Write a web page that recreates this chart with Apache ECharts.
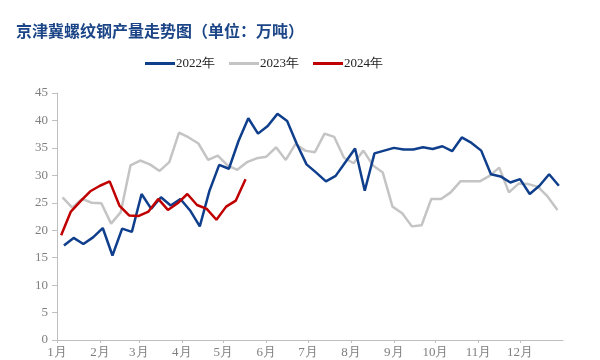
<!DOCTYPE html>
<html>
<head>
<meta charset="utf-8">
<script src="https://cdn.jsdelivr.net/npm/echarts@6/dist/echarts.min.js"></script>
<style>html,body{margin:0;padding:0;background:#fff;}#c{width:600px;height:360px;}</style>
</head>
<body>
<div id="c"></div>
<script>
// Month starts (day of year) and their labels
var monthStarts = [0, 31, 59, 90, 120, 151, 181, 212, 243, 273, 304, 334];
var monthLabels = ['1月','2月','3月','4月','5月','6月','7月','8月','9月','10月','11月','12月'];
var seriesNames = ['2022年', '2023年', '2024年'];
// First weekly observation day-of-year of each year (weekly data)
var firstDay = [5, 4, 3];
var v2022 = [17.2,18.6,17.5,18.7,20.4,15.4,20.3,19.7,26.6,23.9,26.0,24.5,25.7,23.6,20.7,27.2,31.9,31.2,36.3,40.4,37.6,39.0,41.2,39.9,35.7,32.0,30.5,28.9,29.9,32.4,34.9,27.2,34.0,34.5,35.0,34.7,34.7,35.1,34.8,35.3,34.4,36.9,35.9,34.5,30.2,29.8,28.7,29.3,26.6,28.1,30.2,28.1];
var v2023 = [26.0,24.1,25.7,25.0,24.9,21.2,23.3,31.8,32.7,32.0,30.8,32.4,37.8,36.9,35.8,32.8,33.6,31.8,31.0,32.4,33.1,33.4,35.1,32.8,35.7,34.5,34.2,37.6,37.0,33.2,32.2,34.5,31.8,30.5,24.3,23.1,20.7,20.9,25.7,25.7,26.9,28.9,28.9,28.9,29.9,31.4,26.9,28.5,28.4,27.9,26.1,23.7];
var v2024 = [19.1,23.4,25.3,27.1,28.1,28.9,24.5,22.7,22.6,23.4,25.7,23.7,24.9,26.6,24.6,23.9,21.9,24.3,25.4,29.3];
var colors = ['#0f3f8c', '#c4c4c4', '#c00000'];

function weekly(vals, start) {
  return vals.map(function (v, i) { return [start + 7 * i, v]; });
}
var allVals = [v2022, v2023, v2024];

var chart = echarts.init(document.getElementById('c'));
var serif = '"Liberation Serif","Times New Roman",serif';
chart.setOption({
  animation: false,
  title: {
    text: '京津冀螺纹钢产量走势图（单位：万吨）',
    left: 11, top: 18,
    textStyle: { fontFamily: '"Noto Sans CJK SC"', fontSize: 16, fontWeight: 'bold', color: '#1b4587' }
  },
  legend: {
    top: 52, left: 140,
    itemWidth: 30, itemHeight: 3, itemGap: 14,
    icon: 'rect',
    textStyle: { fontFamily: serif, fontSize: 13, color: '#222' , padding: [0,0,0,-4]},
    data: seriesNames
  },
  grid: { left: 57, right: 37, top: 93, bottom: 20 },
  xAxis: {
    type: 'value', min: 0, max: 365,
    splitLine: { show: false },
    axisLine: { lineStyle: { color: '#bfbfbf', width: 1 } },
    axisTick: { show: true, length: 3, customValues: monthStarts, lineStyle: { color: '#bfbfbf' } },
    axisLabel: {
      customValues: monthStarts, margin: 6,
      fontFamily: serif, fontSize: 13, color: '#7f7f7f',
      formatter: function (v) { var k = monthStarts.indexOf(v); return k >= 0 ? monthLabels[k] : ''; }
    }
  },
  yAxis: {
    type: 'value', min: 0, max: 45, interval: 5,
    splitLine: { show: false },
    axisLine: { show: true, lineStyle: { color: '#bfbfbf', width: 1 } },
    axisTick: { show: true, length: 5, lineStyle: { color: '#bfbfbf' } },
    axisLabel: { fontFamily: serif, fontSize: 13, color: '#7f7f7f', margin: 9 }
  },
  series: seriesNames.map(function (n, k) {
    return {
      name: n, type: 'line', data: weekly(allVals[k], firstDay[k]),
      showSymbol: false, symbol: 'none',
      z: k === 1 ? 1 : (k === 0 ? 2 : 3),
      lineStyle: { color: colors[k], width: 2.5 },
      itemStyle: { color: colors[k] }
    };
  })
});
</script>
</body>
</html>
